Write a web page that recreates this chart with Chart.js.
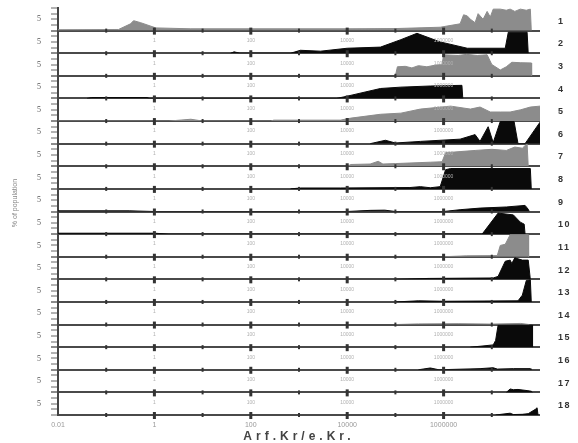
<!DOCTYPE html>
<html>
<head>
<meta charset="utf-8">
<script src="https://cdn.jsdelivr.net/npm/chart.js@4/dist/chart.umd.min.js"></script>
<style>
  body { margin: 0; background: #fff; }
  canvas { display: block; }
</style>
</head>
<body>
<canvas id="chart" width="578" height="443"></canvas>
<script>
// row names on the right side, top to bottom
const rowNames = ['1', '2', '3', '4', '5', '6', '7', '8', '9', '10', '11', '12', '13', '14', '15', '16', '17', '18']

// x ticks (log scale, one per decade) and their labels
const xTickValues = [0.01, 0.1, 1, 10, 100, 1000, 1e4, 1e5, 1e6, 1e7, 1e8]
const xTickLabels = ['0.01', '', '1', '', '100', '', '10000', '', '1000000', '', '']
const yTickValues = [0, 2.5, 5, 7.5, 10]

// each row: [x, % of population]
const row1 = [[0.01, 0.4], [0.18, 0.5], [0.32, 3], [0.37, 4.4], [0.52, 3.5], [1.07, 1.2], [5.7, 0.8], [1e4, 0.8], [1e5, 0.9], [8.5e5, 1.5], [2.2e6, 3], [2.6e6, 7], [3.1e6, 6.5], [3.6e6, 5], [4.5e6, 3.5], [5.2e6, 7.5], [6.6e6, 5], [8e6, 8.5], [9.3e6, 6], [1.07e7, 9.5], [1.5e7, 9.5], [2e7, 9], [2.4e7, 9.5], [3e7, 8.5], [3.9e7, 9.5], [5.2e7, 9], [6.3e7, 9.5], [6.6e7, 0]]
const row2 = [[38, 0], [45, 0.6], [60, 0], [670, 0], [1070, 1.3], [2800, 0.9], [1e4, 2.2], [4.9e4, 2.7], [1.3e5, 6], [2.8e5, 8.8], [8.5e5, 5], [3.1e6, 2.2], [1.9e7, 2.2], [2.2e7, 9.3], [5.4e7, 9.3], [5.7e7, 0]]
const row3 = [[1e5, 0], [1.1e5, 4], [1.6e5, 4.2], [2.2e5, 3.5], [3e5, 4.5], [4.5e5, 4], [7e5, 4.8], [9.3e5, 5], [1e6, 9.3], [2e6, 9], [3e6, 9.5], [5e6, 9], [8e6, 9.3], [1e7, 5], [1.5e7, 2.6], [2e7, 4], [2.6e7, 6], [4e7, 5.8], [6.6e7, 5.7], [6.7e7, 0]]
const row4 = [[0.04, 0], [0.05, 0.4], [0.7, 0.4], [0.8, 0], [6e3, 0], [1e4, 1], [4.9e4, 4.4], [1.3e5, 5], [5.3e5, 5.5], [2.4e6, 5.8], [2.5e6, 0]]
const row5 = [[0.01, 0], [2, 0], [5.7, 0.8], [10, 0], [260, 0], [300, 0.4], [7200, 0.4], [1.2e4, 1.3], [4.9e4, 3], [1.3e5, 3.5], [3.3e5, 5.3], [1.4e6, 6.6], [3.6e6, 5.3], [5.7e6, 6.2], [9.3e6, 4], [1.5e7, 4], [2.4e7, 4], [4e7, 5], [6.3e7, 6.2], [1e8, 6.6]]
const row6 = [[3e4, 0], [6.2e4, 1.5], [1e5, 0.3], [3.3e5, 1], [2.2e6, 2], [4.5e6, 4], [5.7e6, 1], [8.4e6, 7.5], [1.07e7, 0.5], [1.5e7, 9.8], [2.9e7, 9.8], [3.5e7, 0], [4.9e7, 0], [1e8, 9.5]]
const row7 = [[1e4, 0], [1.2e4, 0.8], [3e4, 1], [4.4e4, 2.2], [5.5e4, 1], [1e5, 1.2], [5.3e5, 1.8], [9.3e5, 2], [1.1e6, 6], [2.2e6, 6.5], [4.5e6, 7], [1e7, 7.5], [2e7, 7], [3e7, 8.5], [4.3e7, 8], [5.4e7, 10], [5.7e7, 0]]
const row8 = [[670, 0], [1070, 0.4], [7200, 0.4], [2e5, 0.6], [3.3e5, 1], [5.3e5, 0.5], [8.5e5, 1], [1.1e6, 8.5], [1.4e6, 9], [6.3e7, 9], [6.6e7, 0]]
const row9 = [[0.01, 0.3], [0.3, 0.3], [1, 0], [1e4, 0], [3e4, 0.5], [6e4, 0.6], [1e5, 0], [1e6, 0], [2.2e6, 0.8], [5.7e6, 1.5], [2e7, 2], [4.9e7, 2.7], [5.7e7, 1], [6e7, 0]]
const row10 = [[0.01, 0.4], [1, 0.4], [2, 0], [6.3e6, 0], [1.35e7, 9.3], [2.8e7, 8.5], [3.9e7, 5.3], [4.7e7, 4.4], [4.9e7, 0]]
const row11 = [[1e6, 0], [3e6, 0.4], [1.3e7, 0.5], [1.5e7, 5], [1.9e7, 5.5], [2.4e7, 9.7], [5.7e7, 9.7], [5.8e7, 0]]
const row12 = [[1e5, 0], [5e5, 0.4], [1.07e7, 0.6], [1.35e7, 1.3], [1.9e7, 8], [2.4e7, 8.5], [2.6e7, 7], [3e7, 9.5], [4.3e7, 8.5], [5.7e7, 8.5], [6.3e7, 0]]
const row13 = [[1e5, 0], [3e5, 0.5], [1e6, 0.3], [3.5e7, 0.5], [4.3e7, 3], [5.2e7, 9.5], [6.3e7, 9.8], [6.6e7, 0]]
const row14 = [[1e5, 0], [3e5, 0.3], [2e6, 0.4], [1e7, 0.2], [4e7, 0.5], [6e7, 0]]
const row15 = [[3.6e6, 0], [5.7e6, 0.4], [1.07e7, 1], [1.2e7, 3], [1.35e7, 9.7], [6.9e7, 9.7], [7e7, 0]]
const row16 = [[3e5, 0], [5.3e5, 0.8], [8e5, 0], [5.7e6, 0.5], [1.07e7, 0.9], [1.3e7, 0.3], [2.8e7, 0.5], [6.3e7, 0.5], [6.5e7, 0]]
const row17 = [[2e7, 0], [2.4e7, 1.5], [2.8e7, 1.2], [3.5e7, 1.3], [5.4e7, 0.8], [6.6e7, 0.5], [7e7, 0]]
const row18 = [[1.2e7, 0], [2.4e7, 0.8], [2.8e7, 0.2], [4.3e7, 0.3], [5.7e7, 0.6], [8e7, 2.5], [8.7e7, 3.2], [9.1e7, 0]]

const rows = [row1, row2, row3, row4, row5, row6, row7, row8, row9, row10, row11, row12, row13, row14, row15, row16, row17, row18]
const shades = ['#8c8c8c', '#0a0a0a', '#8c8c8c', '#0a0a0a', '#8c8c8c', '#0a0a0a', '#8c8c8c', '#0a0a0a', '#0a0a0a',
  '#0a0a0a', '#8c8c8c', '#0a0a0a', '#0a0a0a', '#8c8c8c', '#0a0a0a', '#0a0a0a', '#0a0a0a', '#0a0a0a']

Chart.defaults.font.family = "'Liberation Sans', Arial, sans-serif"

const scales = {
  x: {
    type: 'logarithmic',
    min: 0.01,
    max: 1e8,
    afterBuildTicks: (s) => { s.ticks = xTickValues.map((v) => ({ value: v })) },
    afterFit: (s) => { s.height = 28 },
    grid: { display: false, drawTicks: false },
    border: { display: false },
    ticks: {
      autoSkip: false,
      maxRotation: 0,
      padding: 6,
      color: '#999',
      font: { size: 7 },
      callback: (v, i) => xTickLabels[i],
    },
  },
}
// stacked left axes are laid out last-defined on top, so add them bottom row first
for (let i = rows.length - 1; i >= 0; i--) {
  scales[`y${i + 1}`] = {
    type: 'linear',
    position: 'left',
    stack: 'rows',
    stackWeight: 1,
    offset: false,
    min: 0,
    max: 10,
    afterBuildTicks: (s) => { s.ticks = yTickValues.map((v) => ({ value: v })) },
    afterFit: (s) => {
      s.width = 58
      s.paddingTop = 0
      s.paddingBottom = 0
    },
    ticks: {
      autoSkip: false,
      padding: 10,
      color: '#555',
      font: { family: "'Liberation Serif', serif", size: 8 },
      callback: (v) => (v === 5 ? '5' : ''),
    },
    grid: {
      color: (c) => (c.tick && c.tick.value === 0 ? '#4a4a4a' : 'rgba(0,0,0,0)'),
      lineWidth: (c) => (c.tick && c.tick.value === 0 ? 2 : 0),
      tickColor: '#666',
      tickWidth: 1,
      tickLength: 7,
    },
    border: { display: true, color: '#444', width: 2 },
  }
}

const panelDecor = {
  id: 'panelDecor',
  afterDatasetsDraw(chart) {
    const { ctx } = chart
    const xs = chart.scales.x
    ctx.save()
    rows.forEach((r, i) => {
      const ys = chart.scales[`y${i + 1}`]
      const base = ys.getPixelForValue(0)
      xTickValues.forEach((v, k) => {
        if (k === 0 || k === xTickValues.length - 1) return
        const px = xs.getPixelForValue(v)
        const major = xTickLabels[k] !== ''
        ctx.fillStyle = '#333'
        if (major) ctx.fillRect(px - 1.5, base - 3, 3, 7)
        else ctx.fillRect(px - 1, base - 2, 2, 4)
        if (major && i < rows.length - 1) {
          ctx.fillStyle = '#b0b0b0'
          ctx.font = "5px 'Liberation Sans'"
          ctx.textAlign = 'center'
          ctx.textBaseline = 'middle'
          ctx.fillText(xTickLabels[k], px, base + 10)
        }
      })
      ctx.fillStyle = '#333'
      ctx.font = "bold 9px 'Liberation Sans'"
      ctx.textAlign = 'left'
      ctx.textBaseline = 'middle'
      ctx.letterSpacing = '1.5px'
      ctx.fillText(rowNames[i], xs.right + 18, (ys.top + ys.bottom) / 2 + 2)
      ctx.letterSpacing = '0px'
    })
    // y title
    ctx.save()
    ctx.translate(15, 203)
    ctx.rotate(-Math.PI / 2)
    ctx.fillStyle = '#888'
    ctx.font = "7px 'Liberation Sans'"
    ctx.textAlign = 'center'
    ctx.textBaseline = 'middle'
    ctx.fillText('% of population', 0, 0)
    ctx.restore()
    // x title
    ctx.fillStyle = '#444'
    ctx.font = "bold 12px 'Liberation Sans'"
    ctx.textAlign = 'center'
    ctx.textBaseline = 'middle'
    ctx.letterSpacing = '4px'
    ctx.fillText('Arf.Kr/e.Kr.', (xs.left + xs.right) / 2, 437)
    ctx.restore()
  },
}

new Chart(document.getElementById('chart'), {
  type: 'line',
  data: {
    datasets: rows.map((r, i) => ({
      label: rowNames[i],
      yAxisID: `y${i + 1}`,
      data: r.map(([x, y]) => ({ x, y })),
      fill: 'origin',
      backgroundColor: shades[i],
      borderColor: shades[i],
      borderWidth: 1,
      pointRadius: 0,
      tension: 0,
    })),
  },
  options: {
    responsive: false,
    animation: false,
    devicePixelRatio: 1,
    layout: { padding: { top: 8, right: 38, left: 0, bottom: 0 } },
    plugins: { legend: { display: false }, tooltip: { enabled: false } },
    scales,
  },
  plugins: [panelDecor],
})
</script>
</body>
</html>
